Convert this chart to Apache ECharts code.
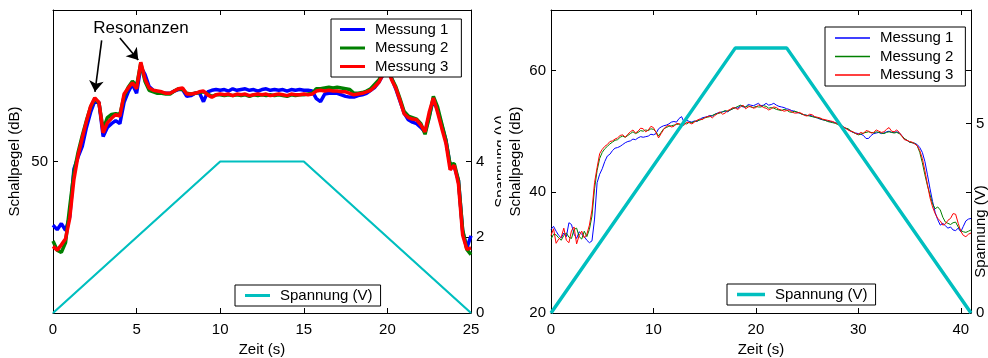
<!DOCTYPE html>
<html>
<head>
<meta charset="utf-8">
<script src="https://cdn.jsdelivr.net/npm/echarts@6/dist/echarts.min.js"></script>
<style>
  html, body { margin: 0; padding: 0; background: #fff; }
  #links  { position: absolute; left: 0;     top: 0; width: 501px; height: 358px; overflow: hidden; }
  #rechts { position: absolute; left: 501px; top: 0; width: 487px; height: 358px; overflow: hidden; }
</style>
</head>
<body>
<div id="links"></div>
<div id="rechts"></div>
<script>
// ---------- Hochlauf 1: 0–25 s, Schallpegel alle 0,25 s ----------
const schrittLinks = 0.25;
const messung1Links = [
  41.6, 41.0, 41.8, 40.9, 42.7, 49.0, 50.6, 52.0, 54.5, 56.5, 58.0,
  57.8, 53.3, 54.5, 55.0, 55.4, 55.0, 57.8, 59.2, 60.2, 59.0,
  62.5, 61.5, 59.9, 59.4, 59.2, 59.1, 59.0, 59.0, 59.3, 59.5,
  59.5, 58.6, 58.7, 59.0, 59.1, 57.9, 59.2, 59.4, 59.5, 59.4,
  59.5, 59.3, 59.6, 59.4, 59.5, 59.6, 59.4, 59.5, 59.3, 59.5,
  59.6, 59.4, 59.5, 59.4, 59.5, 59.3, 59.5, 59.4, 59.5, 59.4,
  59.4, 59.3, 58.3, 57.9, 58.9, 59.0, 59.0, 59.0, 58.8, 58.6,
  58.5, 58.5, 58.7, 58.8, 59.0, 59.4, 59.8, 60.5, 61.5, 62.3,
  61.0, 59.6, 58.0, 56.4, 55.5, 55.2, 55.0, 54.5, 53.9, 56.0,
  58.2, 56.8, 54.8, 52.8, 49.5, 49.3, 47.5, 40.8, 38.6, 40.2
];
const messung2Links = [
  39.5, 38.3, 38.0, 39.3, 44.0, 48.5, 51.2, 53.4, 55.4, 57.2, 58.3,
  57.7, 54.2, 55.8, 56.2, 56.3, 56.2, 58.6, 59.8, 60.6, 60.0,
  63.0, 60.6, 59.4, 59.2, 59.0, 59.0, 58.9, 58.9, 59.3, 59.6,
  59.5, 59.0, 58.9, 59.0, 59.1, 59.2, 58.9, 58.6, 58.8, 58.8,
  58.7, 58.8, 58.7, 58.8, 58.7, 58.8, 58.6, 58.8, 58.7, 58.8,
  58.7, 58.8, 58.7, 58.8, 58.7, 58.6, 58.8, 58.7, 58.8, 58.8,
  58.9, 59.0, 59.6, 59.6, 59.7, 59.8, 59.7, 59.8, 59.7, 59.6,
  59.5, 59.0, 59.0, 59.1, 59.3, 59.6, 60.2, 60.8, 61.8, 62.4,
  61.0, 59.9, 58.3, 56.6, 56.0, 55.8, 55.6, 55.0, 53.6, 55.8,
  58.6, 57.2, 55.0, 52.8, 49.6, 49.7, 47.5, 41.0, 38.4, 37.7
];
const messung3Links = [
  38.8, 38.3, 39.0, 39.8, 42.5, 47.6, 50.8, 53.1, 55.3, 57.3, 58.4,
  57.8, 53.8, 55.1, 55.7, 56.2, 56.0, 58.9, 59.7, 60.4, 59.6,
  63.1, 60.9, 59.7, 59.4, 59.3, 59.2, 59.0, 59.0, 59.3, 59.6,
  59.7, 58.9, 58.9, 59.0, 59.2, 59.3, 58.8, 58.5, 58.8, 58.9,
  58.8, 58.9, 58.7, 58.9, 58.8, 58.9, 58.7, 58.8, 58.9, 58.8,
  58.9, 58.7, 58.8, 58.9, 58.8, 58.7, 58.9, 58.8, 58.8, 58.9,
  58.8, 58.9, 59.3, 59.4, 59.3, 59.4, 59.3, 59.3, 59.2, 59.2,
  59.0, 58.8, 58.9, 59.0, 59.2, 59.4, 59.9, 60.5, 61.6, 62.3,
  60.8, 59.7, 58.1, 56.3, 55.8, 55.6, 55.5, 54.8, 53.9, 56.5,
  58.4, 56.5, 54.4, 52.4, 48.9, 49.5, 47.0, 40.3, 38.4, 38.6
];
const spannungZeitLinks = [0, 10, 15, 25];
const spannungLinks     = [0, 4, 4, 0];

// Beschriftung "Resonanzen" mit zwei Pfeilen (Zeit in s, Pegel in dB)
const resonanzText = [5.26, 67.6];
const pfeilAnfang  = [[2.91, 66.0], [4.0, 66.3]];
const pfeilSpitze  = [[2.51, 59.2], [5.1, 63.4]];

// ---------- Hochlauf 2: 0–41 s, Schallpegel alle 0,25 s (eine Zeile je Sekunde) ----------
const schrittRechts = 0.25;
const messung1Rechts = [
  33.8, 34.3, 33.5, 32.8,
  32.4, 33.2, 32.6, 34.9,
  34.6, 33.0, 32.3, 33.4,
  33.0, 32.6, 32.0, 31.6,
  31.9, 35.5, 41.5, 42.9,
  43.8, 45.0, 45.9, 46.2,
  46.8, 47.2, 47.3, 47.5,
  47.8, 48.1, 48.3, 48.4,
  48.7, 48.6, 48.9, 49.1,
  49.0, 49.1, 49.2, 49.5,
  49.4, 49.6, 50.4, 50.7,
  50.9, 51.0, 51.2, 51.5,
  51.6, 51.5, 52.1, 52.4,
  51.4, 51.8, 51.6, 51.5,
  51.7, 51.6, 51.9, 52.2,
  52.3, 52.4, 52.6, 52.5,
  52.8, 53.0, 53.1, 53.2,
  53.3, 53.2, 53.5, 53.7,
  53.9, 53.8, 54.2, 54.0,
  54.0, 54.4, 54.3, 54.2,
  54.4, 54.6, 54.2, 54.3,
  54.6, 54.3, 54.4, 54.6,
  54.3, 54.1, 54.0, 53.9,
  53.7, 53.6, 53.4, 53.3,
  53.1, 53.0, 52.8, 52.7,
  52.6, 52.6, 52.5, 52.3,
  52.2, 52.0, 51.9, 51.8,
  51.7, 51.6, 51.5, 51.4,
  51.3, 51.0, 50.7, 50.5,
  50.3, 50.0, 49.8, 49.7,
  49.6, 49.5, 49.3, 48.8,
  48.8, 49.3, 49.6, 49.7,
  49.8, 49.6, 49.7, 49.9,
  50.0, 49.8, 49.8, 49.9,
  49.7, 49.3, 48.7, 48.5,
  48.2, 48.1, 48.0, 47.8,
  47.3, 46.5, 45.0, 42.8,
  40.5, 38.4, 36.6, 35.4,
  34.5, 34.8, 34.4, 34.0,
  34.2, 33.7, 33.6, 34.0,
  33.4, 34.3, 35.2, 35.5,
  35.6
];
const messung2Rechts = [
  32.2, 33.0, 32.9, 32.4,
  32.0, 32.8, 33.2, 32.5,
  32.3, 33.8, 34.0, 32.6,
  32.2, 33.5, 32.6, 33.8,
  36.0, 40.5, 43.5, 45.5,
  46.5, 47.1, 47.5, 47.9,
  48.2, 48.5, 48.6, 49.0,
  49.2, 49.0, 49.3, 49.6,
  49.9, 49.6, 49.8, 50.1,
  50.0, 50.2, 50.1, 50.4,
  50.3, 49.9, 49.2, 49.8,
  50.4, 50.6, 50.8, 50.9,
  51.0, 51.1, 51.2, 51.1,
  51.3, 51.2, 51.5, 51.4,
  51.6, 51.7, 51.8, 52.0,
  52.2, 52.3, 52.4, 52.6,
  52.8, 52.9, 53.0, 53.2,
  53.4, 53.3, 53.5, 53.7,
  53.9, 54.1, 54.3, 54.1,
  54.0, 54.2, 54.0, 53.9,
  54.1, 54.0, 54.0, 54.2,
  54.1, 53.8, 53.9, 53.8,
  53.6, 53.5, 53.4, 53.6,
  53.5, 53.2, 53.1, 53.3,
  53.2, 53.0, 52.8, 52.7,
  52.6, 52.5, 52.4, 52.3,
  52.2, 52.1, 51.9, 51.8,
  51.6, 51.5, 51.4, 51.3,
  51.1, 50.9, 50.6, 50.5,
  50.4, 50.1, 49.8, 49.6,
  49.4, 49.5, 49.7, 49.8,
  49.9, 49.8, 49.7, 49.9,
  49.8, 49.7, 49.6, 49.8,
  49.9, 49.8, 49.7, 49.8,
  49.6, 49.2, 48.8, 48.5,
  48.2, 48.1, 48.0, 47.6,
  46.5, 44.8, 42.8, 41.0,
  39.5, 38.0, 37.2, 37.5,
  37.0, 35.8, 35.0, 34.8,
  34.6, 34.9, 35.0, 34.2,
  33.6, 33.4, 33.3, 33.5,
  33.7
];
const messung3Rechts = [
  32.8, 33.9, 31.5, 32.2,
  32.5, 34.0, 32.0, 31.6,
  33.6, 34.2, 31.4, 32.8,
  33.5, 32.4, 33.0, 34.5,
  37.0, 41.5, 44.0, 46.3,
  47.0, 47.5, 47.8, 48.3,
  48.4, 48.7, 48.9, 49.3,
  49.4, 49.0, 49.5, 49.9,
  50.2, 49.7, 50.0, 50.5,
  50.4, 49.9, 50.2, 50.8,
  50.6, 49.8, 48.9, 49.6,
  50.3, 50.8, 51.0, 50.7,
  50.8, 51.3, 51.2, 50.9,
  51.0, 51.5, 51.4, 51.2,
  51.5, 51.8, 52.0, 51.9,
  52.2, 52.4, 52.5, 52.2,
  52.6, 52.9, 53.2, 52.8,
  53.0, 53.4, 53.6, 53.9,
  53.8, 53.6, 54.0, 54.3,
  53.7, 54.0, 54.1, 53.8,
  53.9, 54.3, 54.2, 53.9,
  53.8, 53.5, 53.7, 54.0,
  53.9, 53.6, 53.5, 53.3,
  53.4, 53.5, 53.2, 53.0,
  53.0, 53.1, 52.9, 52.6,
  52.5, 52.8, 52.7, 52.4,
  52.3, 52.2, 52.0, 51.9,
  51.8, 51.7, 51.6, 51.4,
  51.2, 51.0, 50.8, 50.5,
  50.2, 50.0, 49.9, 49.6,
  49.5, 49.8, 49.6, 50.1,
  50.0, 49.7, 49.8, 50.2,
  50.0, 49.8, 49.9, 50.3,
  50.6, 50.0, 49.9, 50.2,
  49.8, 49.2, 48.6, 48.5,
  48.3, 48.2, 47.9, 47.6,
  46.8, 45.5, 43.5, 41.2,
  39.0, 37.5, 36.4, 35.6,
  35.2, 34.5, 34.7, 35.3,
  35.6, 36.4, 36.3, 34.8,
  33.5, 32.8, 32.6, 33.0,
  33.2
];
const spannungZeitRechts = [0, 18, 23, 41];
const spannungRechts     = [0, 7, 7, 0];

// Achsenbeschriftungen
const pegelTicksLinks  = [50];
const spannTicksLinks  = [0, 2, 4];
const pegelTicksRechts = [20, 40, 60];
const spannTicksRechts = [0, 5];

// ---------- Darstellung ----------
const SCHRIFT = '"Liberation Sans", Arial, Helvetica, sans-serif';
const FARBEN = { m1: '#0000ff', m2: '#008000', m3: '#ff0000', u: '#00bfbf' };

const mitZeit = (werte, schritt) => werte.map((v, i) => [i * schritt, v]);
const paare = (xs, ys) => xs.map((x, i) => [x, ys[i]]);

function zeitAchsen(max, interval) {
  const linie = { show: true, onZero: false, lineStyle: { color: '#000', width: 1 } };
  return [
    {
      type: 'value', min: 0, max: max, interval: interval, position: 'bottom',
      axisLine: linie,
      axisTick: { show: true, inside: true, length: 5, lineStyle: { color: '#000' } },
      axisLabel: { color: '#000', fontSize: 15, margin: 9, fontFamily: SCHRIFT,
                   showMaxLabel: max % interval === 0 },
      splitLine: { show: false },
      name: 'Zeit (s)', nameLocation: 'middle', nameGap: 27,
      nameTextStyle: { color: '#000', fontSize: 15, fontFamily: SCHRIFT }
    },
    {
      type: 'value', min: 0, max: max, interval: interval, position: 'top',
      axisLine: linie,
      axisTick: { show: true, inside: true, length: 5, lineStyle: { color: '#000' } },
      axisLabel: { show: false }, splitLine: { show: false }
    }
  ];
}

function pegelAchse(min, max, ticks, gap) {
  return {
    type: 'value', min: min, max: max, position: 'left',
    axisLine: { show: true, onZero: false, lineStyle: { color: '#000', width: 1 } },
    axisTick: { show: true, inside: true, length: 5, customValues: ticks, lineStyle: { color: '#000' } },
    axisLabel: { color: '#000', fontSize: 15, margin: 5, customValues: ticks, fontFamily: SCHRIFT },
    splitLine: { show: false },
    name: 'Schallpegel (dB)', nameLocation: 'middle', nameGap: gap, nameMoveOverlap: false,
    nameTextStyle: { color: '#000', fontSize: 15, fontFamily: SCHRIFT }
  };
}

function spannAchse(tickMarken, labels, gap, namePad) {
  return {
    type: 'value', min: 0, max: 8, position: 'right',
    axisLine: { show: true, onZero: false, lineStyle: { color: '#000', width: 1 } },
    axisTick: { show: true, inside: true, length: 5, customValues: tickMarken, lineStyle: { color: '#000' } },
    axisLabel: { color: '#000', fontSize: 15, margin: 5, customValues: labels, fontFamily: SCHRIFT },
    splitLine: { show: false },
    name: 'Spannung (V)', nameLocation: 'middle', nameGap: gap, nameRotate: 90, nameMoveOverlap: false,
    nameTextStyle: { color: '#000', fontSize: 15, fontFamily: SCHRIFT, padding: namePad }
  };
}

function messLinie(name, daten, farbe, breite) {
  return {
    name: name, type: 'line', xAxisIndex: 0, yAxisIndex: 0,
    data: daten, showSymbol: false, symbol: 'none', smooth: false,
    color: farbe, lineStyle: { color: farbe, width: breite },
    emphasis: { disabled: true }, silent: true
  };
}

// Legendenkästen: Strich als schmales Rechteck, Text mit Abstand dahinter
function legende(namen, links, oben, strichBreite, strichDicke, innen) {
  return {
    data: namen, left: links, top: oben, orient: 'vertical',
    backgroundColor: '#fff', borderColor: '#000', borderWidth: 1, borderRadius: 0,
    icon: 'rect', itemWidth: strichBreite, itemHeight: strichDicke, itemGap: 2.5,
    padding: innen,
    textStyle: { color: '#000', fontSize: 15, fontFamily: SCHRIFT, lineHeight: 16, padding: [0, 0, 0, 5] },
    selectedMode: false
  };
}

const gitter = (l, r) => ({ left: l, right: r, top: 10, bottom: 45, containLabel: false, outerBoundsMode: 'none' });

// Linkes Diagramm
const optLinks = {
  animation: false,
  textStyle: { fontFamily: SCHRIFT },
  grid: gitter(53, 30),
  xAxis: zeitAchsen(25, 5),
  yAxis: [pegelAchse(30, 70, pegelTicksLinks, 31), spannAchse(spannTicksLinks, spannTicksLinks, 22, [0, 0, 0, 0])],
  legend: [
    legende(['Messung 1', 'Messung 2', 'Messung 3'], 331, 19, 25, 3, [2.5, 13, 2.5, 9]),
    legende(['Spannung (V)'], 235, 285, 25, 3, [2.5, 8, 2.5, 10])
  ],
  series: [
    messLinie('Messung 1', mitZeit(messung1Links, schrittLinks), FARBEN.m1, 3.5),
    messLinie('Messung 2', mitZeit(messung2Links, schrittLinks), FARBEN.m2, 3.5),
    Object.assign(messLinie('Messung 3', mitZeit(messung3Links, schrittLinks), FARBEN.m3, 3.5), {
      markPoint: {
        silent: true, animation: false,
        symbol: 'rect', symbolSize: 1, itemStyle: { color: 'rgba(0,0,0,0)' },
        label: { show: true, position: 'inside', color: '#000', fontSize: 17, fontFamily: SCHRIFT,
                 formatter: 'Resonanzen' },
        data: [{ coord: resonanzText }]
      }
    }),
    {
      name: 'Spannung (V)', type: 'line', xAxisIndex: 0, yAxisIndex: 1,
      data: paare(spannungZeitLinks, spannungLinks), showSymbol: false, symbol: 'none',
      color: FARBEN.u, lineStyle: { color: FARBEN.u, width: 2.2 }, silent: true
    },
    {
      name: 'Resonanzpfeile', type: 'lines', coordinateSystem: 'cartesian2d',
      xAxisIndex: 0, yAxisIndex: 0, silent: true, z: 6,
      symbol: ['none', 'arrow'], symbolSize: 11,
      lineStyle: { color: '#000', width: 1.6, opacity: 1, curveness: 0 },
      itemStyle: { color: '#000' },
      data: pfeilAnfang.map((a, i) => ({ coords: [a, pfeilSpitze[i]] }))
    }
  ]
};

// Rechtes Diagramm
const optRechts = {
  animation: false,
  textStyle: { fontFamily: SCHRIFT },
  grid: gitter(50, 17),
  xAxis: zeitAchsen(41, 10),
  yAxis: [pegelAchse(20, 70, pegelTicksRechts, 28),
          spannAchse([0, 3.2, 5, 6.4], spannTicksRechts, 2, [0, 140, 0, 0])],
  legend: [
    legende(['Messung 1', 'Messung 2', 'Messung 3'], 324, 27, 35, 1.5, [3, 12, 3, 10]),
    legende(['Spannung (V)'], 226, 284, 28, 3.5, [2.5, 8, 2.5, 10])
  ],
  series: [
    messLinie('Messung 1', mitZeit(messung1Rechts, schrittRechts), FARBEN.m1, 1),
    messLinie('Messung 2', mitZeit(messung2Rechts, schrittRechts), FARBEN.m2, 1),
    messLinie('Messung 3', mitZeit(messung3Rechts, schrittRechts), FARBEN.m3, 1),
    {
      name: 'Spannung (V)', type: 'line', xAxisIndex: 0, yAxisIndex: 1,
      data: paare(spannungZeitRechts, spannungRechts), showSymbol: false, symbol: 'none',
      color: FARBEN.u, lineStyle: { color: FARBEN.u, width: 3.5 }, silent: true
    }
  ]
};

echarts.init(document.getElementById('links'), null, { renderer: 'canvas' }).setOption(optLinks);
echarts.init(document.getElementById('rechts'), null, { renderer: 'canvas' }).setOption(optRechts);
</script>
</body>
</html>
